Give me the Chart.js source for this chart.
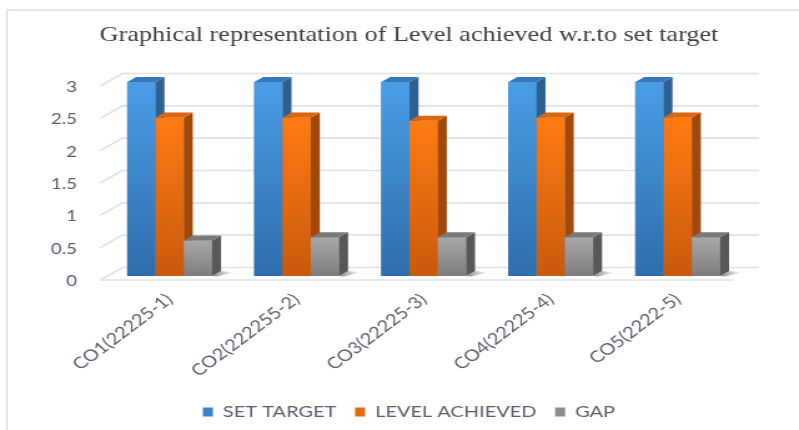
<!DOCTYPE html>
<html><head><meta charset="utf-8">
<script src="https://cdn.jsdelivr.net/npm/chart.js@4"></script>
<style>
html,body{margin:0;padding:0;background:#fff;width:799px;height:430px;overflow:hidden}
#frame{position:absolute;left:6px;top:9px;width:900px;height:500px;border-top:2px solid #e3e6ea;border-left:2px solid #e3e6ea}
#wrap{position:absolute;left:0;top:0;width:640px;height:430px;transform:scaleX(1.2484);transform-origin:0 0}
</style></head><body>
<div id="frame"></div>
<div id="wrap"><canvas id="c" width="640" height="430"></canvas></div>
<script>
const categories = ['CO1(22225-1)','CO2(222255-2)','CO3(22225-3)','CO4(22225-4)','CO5(2222-5)'];
const seriesNames = ['SET TARGET','LEVEL ACHIEVED','GAP'];
const setTarget = [3,3,3,3,3];
const levelAchieved = [2.45,2.45,2.4,2.45,2.45];
const gap = [0.55,0.6,0.6,0.6,0.6];
const yTicks = [0,0.5,1,1.5,2,2.5,3];

const faces = [
  {top:'#4a9de6', bottom:'#2f6eac', side:'#2d5f90', cap:'#3877b8', legend:'#3b82cc'},
  {top:'#ff7b14', bottom:'#c85a0c', side:'#a1480b', cap:'#d9670f', legend:'#e8680f'},
  {top:'#a8a8a8', bottom:'#7e7e7e', side:'#585858', cap:'#7a7a7a', legend:'#8c8c8c'}
];
const DX = 7.2, DY = 5;
const txt = '#56606e';

const grid3d = {
  id:'grid3d',
  beforeDatasetsDraw(chart){
    const {ctx, chartArea:a, scales:{y}} = chart;
    ctx.save();
    ctx.strokeStyle = '#dfe3e8'; ctx.lineWidth = 1.6;
    yTicks.forEach(v=>{
      const py = y.getPixelForValue(v);
      ctx.beginPath();
      ctx.moveTo(a.left-4.7, py+4);
      ctx.lineTo(a.left+13, py-8.5);
      ctx.lineTo(a.right+14.3, py-8.5);
      ctx.stroke();
    });
    const p0 = y.getPixelForValue(0);
    ctx.beginPath(); ctx.moveTo(a.left-4.7, p0+4); ctx.lineTo(a.right-5.7, p0+4); ctx.stroke();
    ctx.restore();
  },
  afterDatasetsDraw(chart){
    const ctx = chart.ctx;
    ctx.save();
    const n = chart.data.labels.length;
    const last = chart.data.datasets.length-1;
    for(let j=0;j<n;j++){
      const le = chart.getDatasetMeta(last).data[j].getProps(['x','base','width'], true);
      const rr = le.x + le.width/2;
      const sg = ctx.createLinearGradient(rr, 0, rr+DX+10, 0);
      sg.addColorStop(0,'rgba(40,40,40,0.55)'); sg.addColorStop(1,'rgba(40,40,40,0)');
      ctx.fillStyle = sg;
      ctx.beginPath(); ctx.moveTo(rr, le.base); ctx.lineTo(rr+DX, le.base-DY); ctx.lineTo(rr+DX+10, le.base-DY+1.5); ctx.lineTo(rr+4, le.base+0.5); ctx.closePath(); ctx.fill();
      for(let i=0;i<chart.data.datasets.length;i++){
        const el = chart.getDatasetMeta(i).data[j];
        const {x,y,base,width} = el.getProps(['x','y','base','width'], true);
        const l = x-width/2, r = x+width/2, f = faces[i];
        const g = ctx.createLinearGradient(0,y,0,base);
        g.addColorStop(0,f.top); g.addColorStop(1,f.bottom);
        ctx.fillStyle = g; ctx.fillRect(l,y,width,base-y);
        ctx.fillStyle = f.side;
        ctx.beginPath(); ctx.moveTo(r,y); ctx.lineTo(r+DX,y-DY); ctx.lineTo(r+DX,base-DY); ctx.lineTo(r,base); ctx.closePath(); ctx.fill();
        ctx.fillStyle = f.cap;
        ctx.beginPath(); ctx.moveTo(l,y); ctx.lineTo(l+DX,y-DY); ctx.lineTo(r+DX,y-DY); ctx.lineTo(r,y); ctx.closePath(); ctx.fill();
      }
    }
    ctx.restore();
  }
};

new Chart(document.getElementById('c'), {
  type:'bar',
  data:{
    labels: categories,
    datasets:[
      {label:seriesNames[0], data:setTarget, backgroundColor:faces[0].legend},
      {label:seriesNames[1], data:levelAchieved, backgroundColor:faces[1].legend},
      {label:seriesNames[2], data:gap, backgroundColor:faces[2].legend}
    ]
  },
  options:{
    responsive:false, animation:false, devicePixelRatio:1,
    layout:{padding:{left:15.2,right:0,top:0,bottom:0}},
    datasets:{bar:{categoryPercentage:0.668, barPercentage:1, borderWidth:0}},
    scales:{
      x:{
        grid:{display:false}, border:{display:false},
        ticks:{color:txt, font:{family:'Lato', size:16}, minRotation:43, maxRotation:43, autoSkip:false, padding:6},
        afterFit(s){ s.height = 113; }
      },
      y:{
        min:0, max:3,
        grid:{display:false}, border:{display:false},
        ticks:{stepSize:0.5, color:txt, font:{family:'Lato', size:15}, padding:15.3, labelOffset:5,
          callback:(v)=>String(+v)},
        afterFit(s){ s.width = 69.8; }
      },
      yRight:{
        position:'right', display:true,
        grid:{display:false, drawTicks:false}, border:{display:false},
        ticks:{display:false},
        afterFit(s){ s.width = 46.3; }
      }
    },
    plugins:{
      title:{display:true, text:'Graphical representation of Level achieved w.r.to set target',
        color:'#404040', font:{family:'Liberation Serif', size:21, weight:'normal'}, padding:{top:22.4,bottom:34.4}},
      legend:{position:'bottom',
        labels:{color:txt, font:{family:'Lato', size:16}, boxWidth:8, boxHeight:9, padding:15,
          generateLabels(chart){
            const items = Chart.defaults.plugins.legend.labels.generateLabels(chart);
            items.forEach((it,i)=>{ it.fillStyle=faces[i].legend; it.strokeStyle=faces[i].legend; it.lineWidth=0; });
            return items;
          }}},
      tooltip:{enabled:false}
    }
  },
  plugins:[grid3d]
});
</script>
</body></html>
